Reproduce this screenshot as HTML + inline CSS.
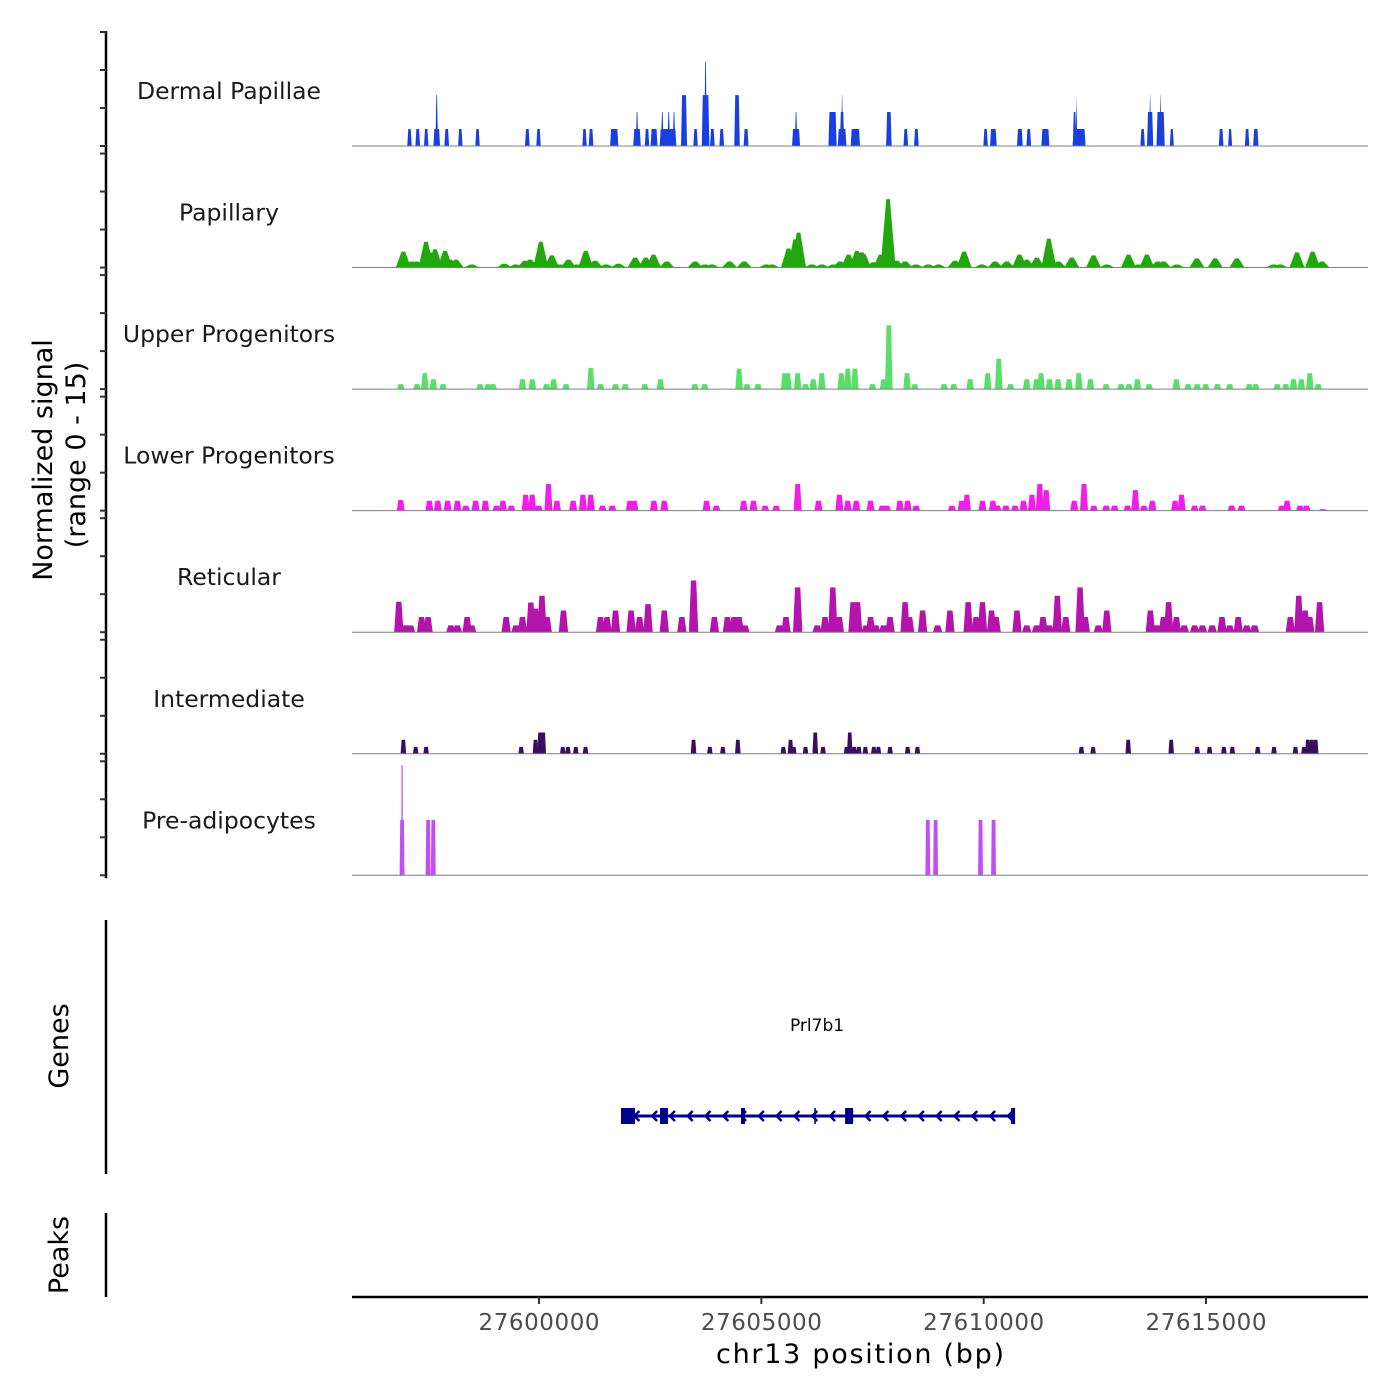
<!DOCTYPE html>
<html><head><meta charset="utf-8"><style>
html,body{margin:0;padding:0;background:#fff;}
svg{display:block;font-family:"DejaVu Sans","Liberation Sans",sans-serif;}
</style></head><body>
<svg id="chart" width="1400" height="1400" viewBox="0 0 1400 1400" xmlns="http://www.w3.org/2000/svg">
<g id="tracks"></g>
<g id="leftaxis"></g>
<text transform="translate(52,460) rotate(-90)" text-anchor="middle" font-size="27" fill="#000">Normalized signal</text>
<text transform="translate(85,455) rotate(-90)" text-anchor="middle" font-size="27" fill="#000">(range 0 - 15)</text>
<line x1="106" y1="920" x2="106" y2="1174" stroke="#000" stroke-width="2.5"/>
<text transform="translate(68,1046) rotate(-90)" text-anchor="middle" font-size="27" fill="#000">Genes</text>
<line x1="106" y1="1213" x2="106" y2="1297" stroke="#000" stroke-width="2.5"/>
<text transform="translate(68,1255) rotate(-90)" text-anchor="middle" font-size="27" fill="#000">Peaks</text>
<g id="genes"></g>
<g id="xaxis"></g>
<text x="860" y="1363" text-anchor="middle" font-size="27" fill="#000" textLength="288">chr13 position (bp)</text>
</svg>
<script>
// ---- data ----
const trackNames = ["Dermal Papillae","Papillary","Upper Progenitors","Lower Progenitors","Reticular","Intermediate","Pre-adipocytes"];
const trackColors = ["#1a3fe0","#22a80e","#5ade6a","#f01ee6","#b414ac","#3b0d5e","#c150f4"];
const xTicks = [27600000,27605000,27610000,27615000];
const yTicks = [0,5,10,15];

const dpPos = [27597087,27597272,27597463,27597699,27597699,27597924,27598230,27598617,27599737,27599989,27601023,27601170,27601691,27602204,27602204,27602429,27602587,27602901,27602773,27602917,27603036,27603261,27603520,27603745,27603745,27603898,27604109,27604453,27604656,27605780,27605780,27606601,27606815,27606815,27606815,27607114,27607868,27608248,27608486,27610043,27610218,27610814,27611014,27611388,27612146,27612044,27612085,27613574,27613743,27613743,27613979,27613979,27614231,27615340,27615542,27615924,27616120];
const dpWid = [100,105,100,150,60,105,100,100,105,100,100,105,185,170,60,100,155,375,60,60,60,135,100,170,60,105,105,125,110,180,60,185,195,100,50,210,125,105,105,100,150,130,105,180,290,80,40,100,140,50,185,50,90,105,90,100,120];
const dpVal = [2.24,2.24,2.24,2.24,6.7,2.24,2.24,2.24,2.24,2.24,2.24,2.24,2.24,2.24,4.47,2.24,2.24,2.24,4.47,4.47,4.47,6.7,2.24,6.7,11.1,2.24,2.24,6.7,2.24,2.24,4.47,4.47,2.24,4.47,6.7,2.24,4.47,2.24,2.24,2.24,2.24,2.24,2.24,2.24,2.24,4.47,6.7,2.24,4.47,6.7,4.47,6.7,2.24,2.24,2.24,2.24,2.24];

const papPos = [27596949,27597136,27597249,27597459,27597549,27597661,27597774,27597886,27597999,27598134,27598486,27599221,27599476,27599686,27599799,27599911,27600039,27600286,27600474,27600661,27600849,27601051,27601261,27601509,27601786,27602161,27602401,27602574,27602874,27603511,27603736,27603886,27604284,27604614,27605109,27605236,27605611,27605761,27605836,27606136,27606361,27606624,27606774,27606961,27607149,27607299,27607258,27607520,27607685,27607850,27608045,27608232,27608480,27608757,27608982,27609357,27609560,27609957,27610257,27610520,27610805,27610970,27611195,27611465,27611682,27611982,27612470,27612770,27613257,27613482,27613670,27613917,27614045,27614345,27614795,27615207,27615695,27616520,27616670,27617045,27617397,27617607];
const papVal = [2.1,0.8,0.8,3.4,2.0,2.4,0.9,2.2,1.05,1.05,0.4,0.5,0.4,0.9,1.05,0.7,3.4,1.6,0.4,1.05,0.4,2.2,0.9,0.4,0.5,1.3,1.3,1.7,0.8,0.8,0.4,0.4,0.8,0.8,0.4,0.4,2.5,3.7,4.6,0.4,0.4,0.4,0.8,1.7,2.2,1.8,2.0,0.7,1.7,9.0,0.9,0.8,0.4,0.4,0.4,0.9,2.1,0.4,0.8,0.8,1.7,1.05,1.3,3.8,0.8,1.3,1.6,0.4,1.7,0.4,1.7,0.8,0.8,0.4,1.2,1.2,1.2,0.4,0.4,2.0,2.1,0.8];

const upPos = [27596890,27597256,27597432,27597622,27597842,27598676,27598851,27598968,27599627,27599847,27600168,27600329,27600607,27601164,27601383,27601720,27601939,27602378,27602729,27603505,27603725,27604500,27604676,27604924,27605525,27605598,27605817,27605993,27606168,27606359,27606798,27606944,27607105,27607500,27607749,27607866,27608276,27608451,27609110,27609329,27609695,27610090,27610339,27610603,27610968,27611188,27611290,27611481,27611671,27611920,27612139,27612402,27612754,27613090,27613266,27613456,27613720,27614334,27614598,27614802,27614993,27615256,27615534,27615973,27616119,27616602,27616793,27616968,27617144,27617334,27617524];
const upVal = [0.66,0.66,2.1,1.3,0.66,0.66,0.66,0.66,1.3,1.3,0.66,1.3,0.66,2.8,0.66,0.66,0.66,0.66,1.3,0.66,0.66,2.7,0.66,0.66,2.1,2.1,2.1,0.66,1.3,2.1,2.1,2.7,2.7,0.66,1.3,8.4,2.1,0.66,0.66,0.66,1.3,2.1,4.0,0.66,1.3,1.3,2.1,1.3,1.3,1.3,2.1,1.3,0.66,0.66,0.66,1.3,0.66,1.3,0.66,0.66,0.66,0.66,0.66,0.66,0.66,0.66,0.66,1.3,1.3,2.1,0.66];

const lpPos = [27596890,27597534,27597725,27597944,27598164,27598354,27598573,27598793,27599042,27599188,27599378,27599700,27599847,27599993,27600212,27600403,27600768,27600988,27601164,27601427,27601647,27602042,27602144,27602583,27602817,27603768,27603988,27604603,27604822,27605085,27605334,27605817,27606285,27606754,27606944,27607134,27607456,27607720,27607822,27608115,27608290,27608481,27609286,27609505,27609622,27609973,27610207,27610310,27610500,27610705,27610895,27611085,27611261,27611407,27612037,27612256,27612476,27612754,27612944,27613236,27613412,27613603,27613793,27614305,27614451,27614744,27614920,27615578,27615798,27616705,27616822,27617115,27617261,27617627];
const lpVal = [1.4,1.3,1.3,1.3,1.3,0.66,1.3,1.3,0.66,1.3,0.66,2.1,2.1,0.66,3.5,1.3,1.3,2.1,2.1,0.66,0.66,1.3,1.3,1.3,1.3,1.3,0.66,1.3,1.3,0.66,0.66,3.5,1.3,2.1,1.3,1.3,1.3,0.66,0.66,1.3,1.3,0.66,0.66,1.3,2.1,1.3,1.3,0.66,0.66,0.66,1.3,2.1,3.5,2.7,1.3,3.5,0.66,0.66,0.66,0.66,2.7,0.66,1.3,1.3,2.1,0.66,0.66,0.66,0.66,0.66,1.3,0.66,0.66,0.2];

const retPos = [27596847,27596993,27597110,27597359,27597505,27598017,27598164,27598383,27598486,27599261,27599481,27599627,27599817,27599920,27600066,27600183,27600549,27601383,27601529,27601720,27602071,27602261,27602451,27602817,27603212,27603476,27603944,27604237,27604383,27604500,27604632,27605407,27605554,27605817,27606256,27606432,27606607,27606754,27607061,27607164,27607354,27607456,27607573,27607749,27607895,27608232,27608334,27608627,27608963,27609241,27609651,27609827,27609973,27610178,27610280,27610749,27610968,27611188,27611334,27611481,27611656,27611846,27612168,27612285,27612578,27612768,27613749,27613895,27614042,27614159,27614334,27614510,27614744,27614920,27615139,27615359,27615534,27615724,27615915,27616091,27616896,27617086,27617232,27617334,27617554];
const retVal = [4.0,0.9,0.9,2.0,2.0,0.9,0.9,2.0,0.9,2.0,0.9,2.0,3.9,3.1,4.8,2.0,2.85,2.0,2.0,2.85,2.85,2.0,3.7,2.85,2.0,6.8,2.0,2.0,2.0,2.0,0.9,0.9,2.0,5.9,0.9,2.0,5.9,2.0,3.95,3.95,0.9,2.0,0.9,0.9,2.0,3.95,2.0,2.85,0.9,2.85,3.95,2.0,3.95,2.85,2.0,2.85,0.9,0.9,2.0,0.9,4.8,2.0,5.9,2.0,0.9,2.85,2.85,0.9,2.0,3.95,2.0,0.9,0.9,0.9,0.9,2.0,0.9,2.0,0.9,0.9,2.0,4.8,2.85,2.0,3.95];

const intPos = [27596949,27597227,27597461,27599598,27599920,27600022,27600095,27600534,27600651,27600827,27601046,27603475,27603841,27604134,27604471,27605495,27605656,27605729,27605993,27606212,27606388,27606915,27606988,27607090,27607193,27607339,27607529,27607632,27607895,27608290,27608510,27612198,27612461,27613251,27614217,27614802,27615080,27615402,27615592,27616163,27616529,27617012,27617202,27617290,27617378,27617466];
const intVal = [1.85,0.9,0.9,0.9,1.85,2.8,2.8,0.9,0.9,0.9,0.9,1.85,0.9,0.9,1.85,0.9,1.85,0.9,0.9,2.8,0.9,0.9,2.8,0.9,0.9,0.9,0.9,0.9,0.9,0.9,0.9,0.9,0.9,1.85,1.85,0.9,0.9,0.9,0.9,0.9,0.9,0.9,0.9,1.85,1.85,1.85];

const prePos = [27596920,27596920,27597505,27597622,27608744,27608919,27609929,27610222];
const preVal = [7.3,14.5,7.3,7.3,7.3,7.3,7.3,7.3];
const preWid = [110,35,110,110,110,110,110,110];

const exonStart = [27601844,27602721,27604543,27606190,27606883,27610616];
const exonEnd   = [27602159,27602901,27604633,27606225,27607063,27610706];
const exonHalf  = [8,8,8,8,8,8];
const geneStart = 27601844, geneEnd = 27610706;

// ---- scales ----
const X0 = 352, X1 = 1368, D0 = 27595794, D1 = 27618643;
const x = bp => X0 + (bp - D0) / (D1 - D0) * (X1 - X0);
const base0 = 146, trackStep = 121.55, pxPerUnit = 7.6;
const baseY = i => base0 + i * trackStep;
const y = (i, v) => baseY(i) - v * pxPerUnit;
const NS = "http://www.w3.org/2000/svg";
function mk(tag, attrs, parent){ const e=document.createElementNS(NS,tag); for(const k in attrs) e.setAttribute(k,attrs[k]); parent.appendChild(e); return e; }

const tracks = document.getElementById("tracks");
const series = [
  {pos:dpPos, val:dpVal, wid:dpWid, taper:1.0},
  {pos:papPos, val:papVal, wid:null, w:340, taper:0.38},
  {pos:upPos, val:upVal, wid:null, w:170, taper:0.2},
  {pos:lpPos, val:lpVal, wid:null, w:180, taper:0.2},
  {pos:retPos, val:retVal, wid:null, w:210, taper:0.22},
  {pos:intPos, val:intVal, wid:null, w:125, taper:1.0},
  {pos:prePos, val:preVal, wid:preWid, taper:0.12}
];
series.forEach((s, i) => {
  const g = mk("g", {}, tracks);
  
  
  const lbl = mk("text", {x:229, y:baseY(i)-47, "text-anchor":"middle", "font-size":"23.5", fill:"#1a1a1a"}, g);
  lbl.textContent = trackNames[i];
  
  
  s.pos.forEach((p, j) => {
    const w = s.wid ? s.wid[j] : s.w;
    const xa = x(p - w/2), xb = x(p + w/2), wp = xb - xa;
    const t = s.taper < 1 ? Math.min(wp*s.taper, wp/2) : Math.min(s.taper, wp/2);
    const yb = baseY(i), yt = y(i, s.val[j]);
    const poly = mk("polygon", {points:`${xa},${yb} ${xa+t},${yt} ${xb-t},${yt} ${xb},${yb}`, fill:trackColors[i]}, g);
    
    
  });
  const bl = mk("line", {x1:X0, x2:X1, y1:baseY(i), y2:baseY(i), stroke:"#7f7f7f", "stroke-width":1}, g);
  
  
});

// left axis
const la = document.getElementById("leftaxis");
const axl = mk("line", {x1:106, x2:106, y1:y(0,15)-1, y2:baseY(6)+3, stroke:"#000", "stroke-width":2.5}, la);


for (let i=0;i<7;i++) yTicks.forEach(v => {
  const tk = mk("line", {x1:100, x2:106, y1:y(i,v), y2:y(i,v), stroke:"#333", "stroke-width":2}, la);
  
  
});

// gene
const gg = document.getElementById("genes");
const gy = 1116, gc = "#00008b";
const gl = mk("line", {x1:x(geneStart), x2:x(geneEnd), y1:gy, y2:gy, stroke:gc, "stroke-width":3}, gg);


for (let bp = geneStart + 300; bp < geneEnd - 100; bp += 400) {
  const cx = x(bp);
  const ch = mk("polyline", {points:`${cx+5},${gy-5} ${cx},${gy} ${cx+5},${gy+5}`, fill:"none", stroke:gc, "stroke-width":2.5}, gg);
  
  
}
exonStart.forEach((s, k) => {
  const xa = x(s), xb = Math.max(x(exonEnd[k]), xa+1.5);
  const r = mk("rect", {x:xa, y:gy-exonHalf[k], width:xb-xa, height:exonHalf[k]*2, fill:gc}, gg);
  
  
});
const gt = mk("text", {x:x((geneStart+geneEnd)/2)-1, y:1031, "text-anchor":"middle", "font-size":"17", fill:"#000"}, gg);
gt.textContent = "Prl7b1";



// x axis
const xa = document.getElementById("xaxis");
const xl = mk("line", {x1:X0, x2:X1, y1:1297, y2:1297, stroke:"#000", "stroke-width":2.5}, xa);


xTicks.forEach(t => {
  const tk = mk("line", {x1:x(t), x2:x(t), y1:1297, y2:1304, stroke:"#333", "stroke-width":2}, xa);
  
  
  const tl = mk("text", {x:x(t), y:1330, "text-anchor":"middle", "font-size":"23", fill:"#4d4d4d", textLength:"121"}, xa);
  tl.textContent = String(t);
  
  
});
</script>
</body></html>
